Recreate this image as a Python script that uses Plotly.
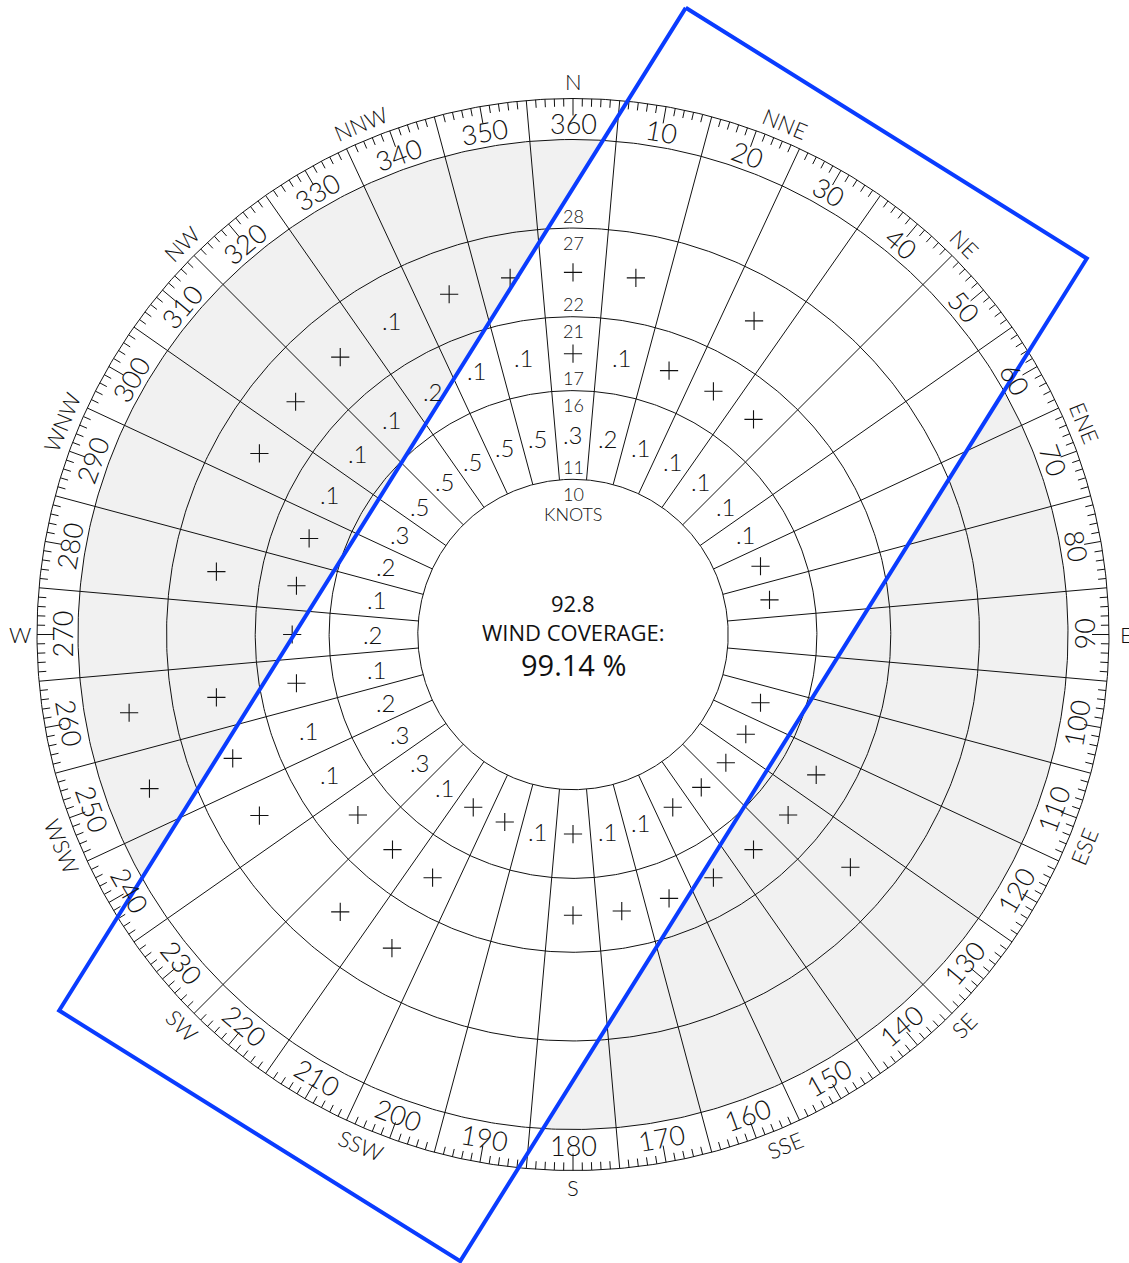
import math
import plotly.graph_objects as go

# ---------------- data ----------------
DIRECTIONS = list(range(10, 361, 10))          # sector centres (degrees true)
BAND_EDGES_KN = [10.5, 16.5, 21.5, 27.5]        # speed band boundaries (knots)
BAND_EDGE_LABELS = [("10", "11"), ("16", "17"), ("21", "22"), ("27", "28")]

RING_11_16 = [".2", ".1", ".1", ".1", ".1", ".1", "+", "+", "", "", "+", "+",
              "+", "+", "+", ".1", ".1", "+", ".1", "+", "+", ".1", ".3", ".3",
              ".2", ".1", ".2", ".1", ".2", ".3", ".5", ".5", ".5", ".5", ".5", ".3"]
RING_17_21 = [".1", "+", "+", "+", "", "", "", "", "", "", "", "+",
              "+", "+", "+", "+", "+", "+", "", "", "+", "+", "+", ".1",
              ".1", "+", "+", "+", "+", ".1", ".1", ".1", ".2", ".1", ".1", "+"]
RING_22_27 = ["+", "", "+", "", "", "", "", "", "", "", "", "",
              "+", "", "", "", "", "", "", "", "+", "+", "", "+",
              "+", "+", "", "+", "", "+", "+", "+", ".1", "+", "+", "+"]
RING_28_UP = ["", "", "", "", "", "", "", "", "", "", "", "",
              "", "", "", "", "", "", "", "", "", "", "", "",
              "+", "+", "", "", "", "", "", "", "", "", "", ""]
RINGS = [RING_11_16, RING_17_21, RING_22_27, RING_28_UP]

COMPASS = ["N", "NNE", "NE", "ENE", "E", "ESE", "SE", "SSE",
           "S", "SSW", "SW", "WSW", "W", "WNW", "NW", "NNW"]
DEGREE_LABELS = [str(d) for d in DIRECTIONS]

CALM_TEXT = "92.8"
COVERAGE_TITLE = "WIND COVERAGE:"
COVERAGE_PCT = 99.14

RUNWAY_HEADING = 32      # degrees
CROSSWIND_LIMIT = 16     # knots (half width of the template)
TEMPLATE_HALF_LEN = 40   # knots

# ---------------- geometry / style ----------------
W, H = 1129, 1263
CX, CY = 573, 634.5            # centre in page pixels
SCALE = 14.78                  # px per knot
R_DATA = 495
R_OUTER = 536
GRAY = "#f1f1f1"
BLUE = "#0a3cff"
INK = "#111111"
FONT_LIGHT = "Lato"


def pol(r, deg):
    a = math.radians(deg)
    return r * math.sin(a), r * math.cos(a)


def rot_for(deg):
    d = deg % 360
    if 90 <= d < 270:
        return d - 180
    if d >= 270:
        return d - 360
    return d


fig = go.Figure()
shapes = []
annotations = []

edges_px = [e * SCALE for e in BAND_EDGES_KN]
r_inner = edges_px[0]

# shading: gray annulus, white centre, white template rectangle
shapes.append(dict(type="circle", xref="x", yref="y", x0=-R_DATA, y0=-R_DATA,
                   x1=R_DATA, y1=R_DATA, fillcolor=GRAY, line=dict(width=0), layer="below"))
shapes.append(dict(type="circle", xref="x", yref="y", x0=-r_inner, y0=-r_inner,
                   x1=r_inner, y1=r_inner, fillcolor="white", line=dict(width=0), layer="below"))

ux, uy = math.sin(math.radians(RUNWAY_HEADING)), math.cos(math.radians(RUNWAY_HEADING))
px_, py_ = uy, -ux
L = TEMPLATE_HALF_LEN * SCALE
Wd = CROSSWIND_LIMIT * SCALE
corners = [(L * ux - Wd * px_, L * uy - Wd * py_),
           (L * ux + Wd * px_, L * uy + Wd * py_),
           (-L * ux + Wd * px_, -L * uy + Wd * py_),
           (-L * ux - Wd * px_, -L * uy - Wd * py_)]
path = "M " + " L ".join(f"{x:.2f},{y:.2f}" for x, y in corners) + " Z"
shapes.append(dict(type="path", xref="x", yref="y", path=path, fillcolor="white",
                   line=dict(width=0), layer="below"))

# black line work
lx, ly = [], []
for r in edges_px + [R_DATA, R_OUTER]:
    for k in range(721):
        x, y = pol(r, k * 0.5)
        lx.append(x); ly.append(y)
    lx.append(None); ly.append(None)
for d in DIRECTIONS:
    b = d - 5
    x0, y0 = pol(r_inner, b)
    x1, y1 = pol(R_OUTER, b)
    lx += [x0, x1, None]; ly += [y0, y1, None]
for deg in range(360):
    if deg % 5 == 0 and deg % 10 != 0:
        continue
    ln = 17 if deg % 10 == 0 else 8
    x0, y0 = pol(R_OUTER, deg)
    x1, y1 = pol(R_OUTER - ln, deg)
    lx += [x0, x1, None]; ly += [y0, y1, None]
fig.add_trace(go.Scatter(x=lx, y=ly, mode="lines", line=dict(color=INK, width=1),
                         hoverinfo="skip", showlegend=False))


def txt(x, y, s, size, angle=0, family=FONT_LIGHT, weight=300):
    annotations.append(dict(x=x, y=y, xref="x", yref="y", text=s, showarrow=False,
                            xanchor="center", yanchor="middle", textangle=angle,
                            font=dict(family=family, size=size, color=INK, weight=weight)))


# cell values ("+" = trace amount, drawn as a thin cross marker)
bounds = edges_px + [R_DATA]
plus_x, plus_y = [], []
for ri, ring in enumerate(RINGS):
    rm = (bounds[ri] + bounds[ri + 1]) / 2
    for d, v in zip(DIRECTIONS, ring):
        if not v:
            continue
        x, y = pol(rm, d)
        if v == "+":
            plus_x.append(x); plus_y.append(y)
        else:
            txt(x, y, v, 24)
fig.add_trace(go.Scatter(x=plus_x, y=plus_y, mode="markers",
                         marker=dict(symbol="cross-thin", size=13,
                                     line=dict(color=INK, width=1.1)),
                         hoverinfo="skip", showlegend=False))

# template outline
bx = [c[0] for c in corners] + [corners[0][0]]
by = [c[1] for c in corners] + [corners[0][1]]
fig.add_trace(go.Scatter(x=bx, y=by, mode="lines", line=dict(color=BLUE, width=4),
                         hoverinfo="skip", showlegend=False))

# degree labels
for d, s in zip(DIRECTIONS, DEGREE_LABELS):
    x, y = pol(511, d)
    txt(x, y, s, 27, rot_for(d))

# compass points
for i, s in enumerate(COMPASS):
    d = i * 22.5
    x, y = pol(553, d)
    txt(x, y, s, 22, 0 if i % 4 == 0 else rot_for(d))

# band edge labels along north
for e, (lo, hi) in zip(edges_px, BAND_EDGE_LABELS):
    txt(0, e - 14.5, lo, 18)
    txt(0, e + 12.5, hi, 18)
txt(0, r_inner - 35, "KNOTS", 18)

# centre text
txt(0, 32, CALM_TEXT, 22, family="Open Sans", weight=400)
txt(0, 3, COVERAGE_TITLE, 22, family="Open Sans", weight=400)
txt(0, -30, f"{COVERAGE_PCT:.2f} %", 29, family="Open Sans", weight=400)

fig.update_layout(
    width=W, height=H, autosize=False,
    margin=dict(l=0, r=0, t=0, b=0),
    paper_bgcolor="white", plot_bgcolor="white",
    xaxis=dict(range=[-CX, W - CX], visible=False, fixedrange=True),
    yaxis=dict(range=[-(H - CY), CY], visible=False, fixedrange=True),
    shapes=shapes, annotations=annotations, showlegend=False,
)
fig.write_html("out.html", config={"displayModeBar": False})
